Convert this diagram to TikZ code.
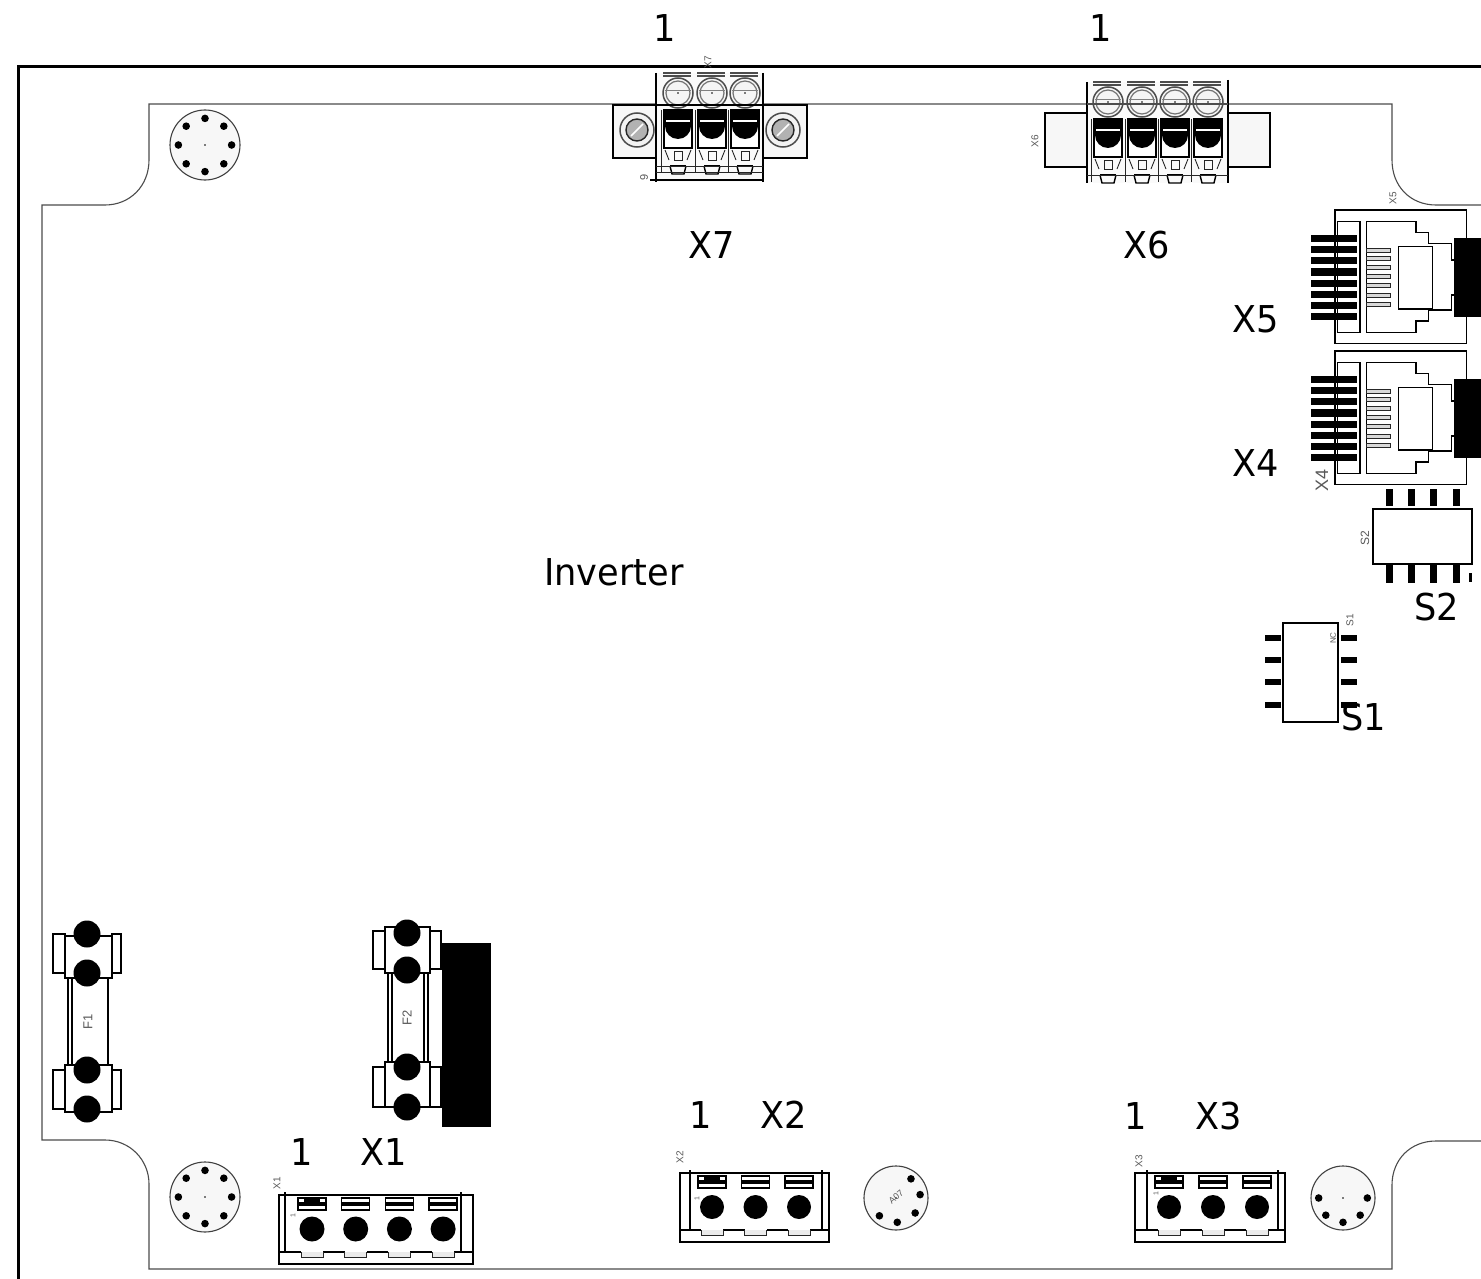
\documentclass[tikz,border=0pt]{standalone}
\usepackage{fontspec}
\setmainfont[FakeStretch=0.95]{DejaVu Sans}
\newfontfamily\smallfont{Liberation Sans}
\tikzset{
  board/.style={draw=black!70,line width=1.1pt},
  frameline/.style={draw=black,line width=3pt,line cap=rect},
  part/.style={draw=black,line width=1.4pt},
  partfine/.style={draw=black!85,line width=.9pt},
  lab/.style={font=\fontsize{37}{40}\selectfont,inner sep=0pt,text=black},
  tiny lab/.style={font=\smallfont\fontsize{10}{11}\selectfont,inner sep=0pt,text=black!65,rotate=90},
  mount/.style={draw=black!75,line width=1.1pt,fill=black!3},
}
% mounting hole: x, y, radius, list of hole angles
\newcommand{\mounthole}[4]{%
  \draw[mount] (#1,#2) circle[radius=#3];
  \fill (#1,#2) circle[radius=.8];
  \foreach \ang in {#4} {\fill (#1,#2) ++(\ang:#3*.76) circle[radius=3.8];}
}
% terminal block: left,right,innerleft,innerright,top,firstx,secondx,lastx,radius
\newcommand{\termblock}[9]{%
  \draw[part] (#1,#5) rectangle (#2,#5+69);
  \draw[line width=2pt] (#1,#5+69) -- (#2,#5+69);
  \draw[part] (#3,#5-3) -- (#3,#5+57);
  \draw[part] (#4,#5-3) -- (#4,#5+57);
  \draw[line width=1.8pt] (#1,#5+57) -- (#2,#5+57);
  \foreach \px in {#6,#7,...,#8} {
    \fill[white] (\px-11,#5+56) rectangle (\px+11,#5+58);
    \draw[partfine,fill=black!8] (\px-11,#5+57) -- (\px-11,#5+62) -- (\px+11,#5+62) -- (\px+11,#5+57);
    \draw[part,fill=white] (\px-14,#5+3) rectangle (\px+14,#5+15);
    \fill (\px-14,#5+7) rectangle (\px+14,#5+11);
    \fill (\px,#5+34) circle[radius=#9];
  }
  \fill (#6-8,#5+4) rectangle (#6+8,#5+8);
}
% screw pole: x, dome y
\newcommand{\screwpole}[2]{%
  \draw[black!70,line width=1.4pt] (#1-15,#2-20) -- (#1+13,#2-20) (#1-15,#2-17) -- (#1+13,#2-17);
  \draw[black!70,line width=1.5pt,fill=black!4] (#1,#2) circle[radius=15];
  \draw[black!55,line width=1.2pt] (#1,#2) circle[radius=12];
  \draw[black!50,line width=.8pt] (#1-13,#2-3) -- (#1+13,#2-3);
  \fill (#1,#2) circle[radius=.8];
  \draw[part,fill=white] (#1-14,#2+17) rectangle (#1+14,#2+55);
  \fill (#1-14,#2+17) rectangle (#1+14,#2+33);
  \fill (#1-13,#2+33) arc[start angle=180,end angle=0,radius=13] -- cycle;
  \fill[white] (#1-12,#2+27) rectangle (#1+12,#2+29);
  \draw[partfine] (#1-4,#2+58) rectangle (#1+4,#2+67);
  \draw[partfine] (#1-13,#2+57) -- (#1-9,#2+67) (#1+13,#2+57) -- (#1+9,#2+67);
  \draw[part] (#1-8,#2+73) -- (#1-6,#2+81) -- (#1+6,#2+81) -- (#1+8,#2+73);
  \draw[part] (#1-8,#2+73) -- (#1+8,#2+73);
  \draw[partfine] (#1-16.5,#2+17) -- (#1-16.5,#2+80);
}
% RJ45 jack, drawn in a 3x grid from origin (1290,#1)
\newcommand{\jack}[2]{%
\begin{scope}[shift={(1290,#1)},x=.33333pt,y=-.33333pt]
  \draw[part,fill=white] (135,45) rectangle (530,445);
  \draw[part] (143,80) rectangle (210,412);
  \draw[part] (492,300) -- (485,300) -- (485,345) -- (415,345) -- (415,378) -- (378,378) -- (378,412) -- (230,412)
     -- (230,80) -- (378,80) -- (378,112) -- (415,112) -- (415,145) -- (485,145) -- (485,195) -- (492,195);
  \draw[line width=1.5pt] (325,155) rectangle (427,342);
  \foreach \cy in {167,190,218,245,272,300,327} {
    \draw[partfine,fill=black!15] (230,\cy-6) rectangle (302,\cy+6);
  }
  \foreach \cy in {#2} {\fill (62,\cy-11) rectangle (202,\cy+11);}
  \fill (492,130) rectangle (575,365);
\end{scope}}
\begin{document}
\begin{tikzpicture}[x=1pt,y=-1pt]
\useasboundingbox (0,0) rectangle (1481,1279);
\fill[white] (0,0) rectangle (1481,1279);
% outer frame
\draw[frameline] (18,1279) -- (18,67) -- (1481,67);
% board outline
\draw[board] (1481,205) -- (1436,205) .. controls (1410,205) and (1392,186) .. (1392,160) -- (1392,104)
  -- (149,104) -- (149,160) .. controls (149,186) and (130,205) .. (105,205) -- (42,205) -- (42,1140) -- (105,1140)
  .. controls (130,1140) and (149,1160) .. (149,1184) -- (149,1269) -- (1392,1269) -- (1392,1185)
  .. controls (1392,1160) and (1410,1141) .. (1436,1141) -- (1481,1141);
% mounting holes
\mounthole{205}{145}{35}{0,45,...,315}
\mounthole{205}{1197}{35}{0,45,...,315}
\mounthole{896}{1198}{32}{-52,-8,38,87,133}
\mounthole{1343}{1198}{32}{0,180,45,90,135}
\node[tiny lab,rotate=-50,font=\smallfont\fontsize{9}{10}\selectfont] (a07) at (896,1197) {A07};
% X7
\draw[part,fill=black!3] (613,105) rectangle (807,158);
\draw[black!70,line width=1.5pt,fill=black!5] (637,130) circle[radius=17];
\draw[partfine,line width=1.4pt,fill=black!30] (637,130) circle[radius=11];
\draw[white,line width=1.5pt] (631,136) -- (643,124);
\draw[black!70,line width=1.5pt,fill=black!5] (783,130) circle[radius=17];
\draw[partfine,line width=1.4pt,fill=black!30] (783,130) circle[radius=11];
\draw[white,line width=1.5pt] (777,136) -- (789,124);
\fill[black!2] (656,73) rectangle (763,182);
\draw[part] (656,73) -- (656,182) (763,73) -- (763,182);
\foreach \px in {678,712,745} {\screwpole{\px}{93}}
\draw[partfine] (656,166) -- (763,166) (656,172) -- (763,172);
\draw[line width=1.5pt] (650,180) -- (763,180);
\draw[part] (613,105) -- (807,105);
% X6
\draw[part,fill=black!3] (1045,113) rectangle (1270,167);
\fill[black!2] (1087,82) rectangle (1228,183);
\draw[part] (1087,82) -- (1087,183) (1228,80) -- (1228,183);
\foreach \px in {1108,1142,1175,1208} {\screwpole{\px}{102}}
\draw[partfine] (1087,175) -- (1228,175);
\draw[board] (1087,104) -- (1228,104);
% RJ45 X5 and X4
\jack{195}{130,163,197,231,265,298,332,365}
\jack{336}{130,163,197,231,265,298,332,365}
% S2
\draw[part,fill=white] (1373,509) rectangle (1472,564);
\foreach \px in {1389,1411,1433,1456} {
  \fill (\px-3.5,489) rectangle (\px+3.5,506);
  \fill (\px-3.5,565) rectangle (\px+3.5,583);
}
\fill (1469,573) rectangle (1472,582);
% S1
\draw[part,fill=white] (1283,623) rectangle (1338,722);
\foreach \py in {638,660,682,705} {
  \fill (1265,\py-3) rectangle (1281,\py+3);
  \fill (1341,\py-3) rectangle (1357,\py+3);
}
% Fuse F1
\draw[part,fill=white] (53,934) rectangle (65,973);
\draw[part,fill=white] (112,934) rectangle (121,973);
\draw[part,fill=white] (53,1070) rectangle (65,1109);
\draw[part,fill=white] (112,1070) rectangle (121,1109);
\draw[part,fill=white] (65,936) rectangle (112,978);
\draw[part,fill=white] (65,1065) rectangle (112,1112);
\draw[part,fill=white] (68,978) rectangle (108,1065);
\draw[part] (72,978) -- (72,1065);
\foreach \py in {934,973,1070,1109} {\fill (87,\py) circle[radius=13.5];}
% Fuse F2
\draw[part,fill=white] (373,931) rectangle (385,969);
\draw[part,fill=white] (430,931) rectangle (441,969);
\draw[part,fill=white] (373,1067) rectangle (385,1107);
\draw[part,fill=white] (430,1067) rectangle (441,1107);
\draw[part,fill=white] (385,927) rectangle (430,973);
\draw[part,fill=white] (385,1062) rectangle (430,1107);
\draw[part,fill=white] (388,973) rectangle (428,1062);
\draw[part] (392,973) -- (392,1062) (424,973) -- (424,1062);
\foreach \py in {933,970,1067,1107} {\fill (407,\py) circle[radius=13.5];}
\fill (442,943) rectangle (491,1127);
% Terminal blocks
\termblock{279}{473}{285}{461}{1195}{312}{355.7}{445}{12.5}
\termblock{680}{829}{690}{822}{1173}{712}{755.5}{800}{12}
\termblock{1135}{1285}{1147}{1278}{1173}{1169}{1213}{1258}{12}
% small silk-screen labels
\node[tiny lab] (sx1) at (277,1183) {X1};
\node[tiny lab] (sx2) at (680,1157) {X2};
\node[tiny lab] (sx3) at (1139,1161) {X3};
\node[tiny lab] (sx5) at (1393,198) {X5};
\node[tiny lab] (sx6) at (1035,141) {X6};
\node[tiny lab] (sx7) at (708,62) {X7};
\node[tiny lab] (ss1) at (1350,620) {S1};
\node[tiny lab,font=\smallfont\fontsize{12}{13}\selectfont] (ss2) at (1365,538) {S2};
\node[tiny lab,font=\smallfont\fontsize{8}{9}\selectfont] (snc) at (1333,638) {NC};
\node[tiny lab,font=\smallfont\fontsize{18}{20}\selectfont] (sx4) at (1322,480) {X4};
\node[tiny lab,font=\smallfont\fontsize{13}{14}\selectfont] (sf1) at (88,1022) {F1};
\node[tiny lab,font=\smallfont\fontsize{13}{14}\selectfont] (sf2) at (407,1018) {F2};
\node[tiny lab,font=\smallfont\fontsize{11}{12}\selectfont] (s9) at (644,177) {9};
\node[tiny lab,font=\smallfont\fontsize{7}{8}\selectfont] (s11) at (293,1216) {1};
\node[tiny lab,font=\smallfont\fontsize{7}{8}\selectfont] (s12) at (697,1199) {1};
\node[tiny lab,font=\smallfont\fontsize{7}{8}\selectfont] (s13) at (1156,1194) {1};
% labels
\node[lab] (one7) at (665,28) {1};
\node[lab] (one6) at (1101,28) {1};
\node[lab] (lx7) at (712,245) {X7};
\node[lab] (lx6) at (1147,245) {X6};
\node[lab] (lx5) at (1256,319) {X5};
\node[lab] (lx4) at (1256,463) {X4};
\node[lab] (ls2) at (1437,607) {S2};
\node[lab] (ls1) at (1364,717) {S1};
\node[lab] (inv) at (614,572) {Inverter};
\node[lab] (one1) at (302,1152) {1};
\node[lab] (lx1) at (384,1152) {X1};
\node[lab] (one2) at (701,1115) {1};
\node[lab] (lx2) at (784,1115) {X2};
\node[lab] (one3) at (1136,1116) {1};
\node[lab] (lx3) at (1219,1116) {X3};
\end{tikzpicture}
\end{document}
